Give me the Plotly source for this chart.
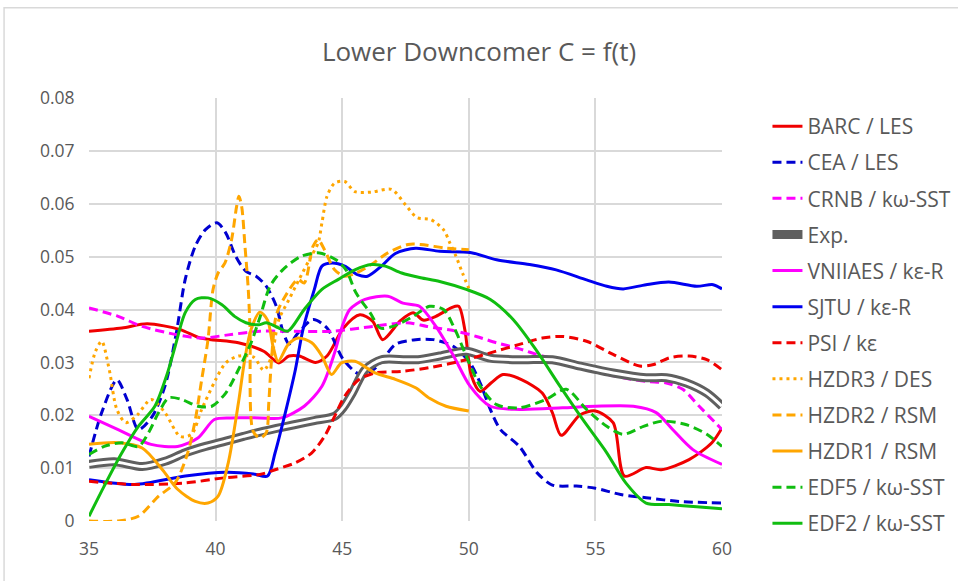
import plotly.graph_objects as go

# Time axis (s) and concentration C for each contribution
BARC_t = [35.0, 36.3, 37.3, 38.6, 39.4, 40.9, 41.9, 42.5, 42.9, 43.3, 43.95, 44.4, 45.05, 45.7, 46.2, 46.6, 47.3, 47.8, 48.2, 48.7, 49.3, 49.6, 49.85, 50.1, 50.45, 50.9, 51.35, 52.1, 52.9, 53.3, 53.65, 54.4, 55.0, 55.7, 56.15, 57.0, 57.6, 58.7, 59.6, 60.0]
BARC_c = [0.0359, 0.0365, 0.0373, 0.0362, 0.0346, 0.0337, 0.0321, 0.0299, 0.0312, 0.0312, 0.0300, 0.0312, 0.0365, 0.0390, 0.0378, 0.0343, 0.0379, 0.0394, 0.0380, 0.0387, 0.0403, 0.0406, 0.0360, 0.0275, 0.0245, 0.0262, 0.0277, 0.0267, 0.0242, 0.0205, 0.0162, 0.0201, 0.0208, 0.0186, 0.0085, 0.0101, 0.0097, 0.0116, 0.0148, 0.0176]

CEA_t = [35.0, 35.5, 36.1, 36.5, 36.95, 37.5, 38.0, 38.45, 38.8, 39.2, 39.6, 40.05, 40.4, 40.8, 41.2, 41.6, 42.0, 42.4, 42.65, 42.9, 43.25, 43.85, 44.4, 45.05, 45.7, 46.2, 46.6, 47.1, 47.9, 48.6, 49.4, 50.05, 50.45, 50.85, 51.25, 52.0, 52.7, 53.3, 54.25, 55.0, 56.0, 57.0, 58.3, 60.0]
CEA_c = [0.0122, 0.0205, 0.0267, 0.0230, 0.0173, 0.0198, 0.0255, 0.0356, 0.0457, 0.0520, 0.0551, 0.0564, 0.0545, 0.0500, 0.0472, 0.0463, 0.0444, 0.0406, 0.0360, 0.0335, 0.0355, 0.0381, 0.0365, 0.0305, 0.0277, 0.0285, 0.0305, 0.0334, 0.0343, 0.0343, 0.0330, 0.0299, 0.0261, 0.0211, 0.0173, 0.0141, 0.0091, 0.0068, 0.0066, 0.0062, 0.0050, 0.0044, 0.0037, 0.0034]

CRNB_t = [35.0, 36.15, 37.1, 38.5, 39.45, 40.5, 41.75, 42.55, 44.6, 46.2, 47.55, 48.35, 49.5, 50.3, 51.1, 51.9, 52.9, 54.0, 55.0, 56.1, 57.0, 57.8, 58.45, 59.1, 60.0]
CRNB_c = [0.0403, 0.0387, 0.0368, 0.0352, 0.0346, 0.0352, 0.0359, 0.0359, 0.0359, 0.0368, 0.0375, 0.0368, 0.0359, 0.0349, 0.0337, 0.0327, 0.0312, 0.0299, 0.0283, 0.0271, 0.0264, 0.0261, 0.0249, 0.0217, 0.0173]

EXP_t = [35.0, 36.0, 37.1, 38.0, 38.8, 39.6, 40.4, 41.1, 41.75, 42.4, 43.1, 43.9, 44.7, 45.05, 45.4, 45.9, 46.55, 47.5, 48.0, 48.85, 49.9, 50.85, 52.1, 53.3, 54.4, 55.7, 57.0, 57.8, 58.6, 59.4, 60.0]
EXP_c = [0.0107, 0.0112, 0.0103, 0.0113, 0.0129, 0.0141, 0.0151, 0.0160, 0.0168, 0.0175, 0.0182, 0.0190, 0.0198, 0.0215, 0.0242, 0.0286, 0.0305, 0.0305, 0.0305, 0.0312, 0.0321, 0.0308, 0.0305, 0.0305, 0.0293, 0.0280, 0.0271, 0.0271, 0.0261, 0.0242, 0.0217]

VNIIAES_t = [35.0, 36.15, 37.45, 38.5, 39.3, 39.95, 40.6, 41.75, 42.6, 43.5, 44.2, 44.7, 45.0, 45.3, 45.9, 46.8, 47.4, 48.05, 48.7, 49.4, 50.05, 50.85, 52.0, 53.7, 55.0, 56.5, 57.4, 58.05, 58.85, 60.0]
VNIIAES_c = [0.0198, 0.0173, 0.0145, 0.0141, 0.0157, 0.0192, 0.0195, 0.0195, 0.0195, 0.0217, 0.0255, 0.0318, 0.0368, 0.0400, 0.0419, 0.0425, 0.0412, 0.0406, 0.0368, 0.0312, 0.0255, 0.0217, 0.0211, 0.0214, 0.0217, 0.0217, 0.0205, 0.0173, 0.0135, 0.0107]

SJTU_t = [35.0, 36.8, 38.8, 40.4, 41.5, 42.05, 42.35, 42.75, 43.15, 43.45, 43.9, 44.2, 44.6, 45.1, 45.6, 46.0, 46.55, 47.1, 47.9, 48.85, 50.05, 51.1, 52.4, 53.45, 54.65, 55.45, 56.1, 57.0, 57.9, 59.0, 59.65, 60.0]
SJTU_c = [0.0078, 0.0069, 0.0085, 0.0092, 0.0089, 0.0085, 0.0129, 0.0204, 0.0286, 0.0362, 0.0438, 0.0482, 0.0488, 0.0482, 0.0466, 0.0463, 0.0482, 0.0506, 0.0516, 0.0510, 0.0508, 0.0494, 0.0485, 0.0475, 0.0456, 0.0444, 0.0439, 0.0447, 0.0452, 0.0444, 0.0447, 0.0439]

PSI_t = [35.0, 36.8, 38.8, 40.4, 41.75, 42.35, 43.15, 43.8, 44.3, 44.7, 45.1, 45.65, 46.3, 47.35, 48.45, 49.9, 50.85, 52.0, 52.9, 53.7, 54.65, 55.7, 56.75, 57.3, 57.95, 58.7, 59.4, 60.0]
PSI_c = [0.0075, 0.0069, 0.0072, 0.0082, 0.0088, 0.0097, 0.0110, 0.0129, 0.0160, 0.0198, 0.0236, 0.0267, 0.0280, 0.0283, 0.0290, 0.0305, 0.0318, 0.0334, 0.0346, 0.0349, 0.0340, 0.0315, 0.0293, 0.0296, 0.0309, 0.0312, 0.0305, 0.0286]

HZDR3_t = [35.0, 35.25, 35.5, 35.8, 36.1, 36.45, 36.9, 37.45, 38.0, 38.6, 39.05, 39.45, 40.0, 40.4, 40.9, 41.5, 41.9, 42.2, 42.5, 42.9, 43.3, 43.7, 44.05, 44.2, 44.4, 44.7, 45.1, 45.5, 46.15, 46.95, 47.5, 47.95, 48.5, 49.0, 49.25, 49.5, 49.75, 50.0]
HZDR3_c = [0.0270, 0.0320, 0.0340, 0.0286, 0.0211, 0.0186, 0.0200, 0.0230, 0.0205, 0.0160, 0.0164, 0.0211, 0.0267, 0.0299, 0.0312, 0.0310, 0.0285, 0.0310, 0.0381, 0.0419, 0.0457, 0.0494, 0.0526, 0.0564, 0.0614, 0.0639, 0.0642, 0.0623, 0.0622, 0.0627, 0.0598, 0.0574, 0.0570, 0.0551, 0.0526, 0.0500, 0.0469, 0.0440]

HZDR2_t = [35.0, 36.15, 36.95, 37.75, 38.4, 38.9, 39.2, 39.45, 39.7, 39.9, 40.1, 40.37, 40.63, 40.83, 40.92, 41.03, 41.16, 41.29, 41.36, 41.48, 41.75, 42.0, 42.1, 42.2, 42.4, 42.75, 43.25, 43.5, 43.85, 44.05, 44.3, 44.7, 45.1, 45.6, 46.15, 46.8, 47.6, 48.1, 49.1, 50.0]
HZDR2_c = [0.0, 0.0, 0.0009, 0.0047, 0.0072, 0.0129, 0.0192, 0.0267, 0.0343, 0.0438, 0.0469, 0.0488, 0.0532, 0.0595, 0.0614, 0.0595, 0.0520, 0.0438, 0.0362, 0.0170, 0.0157, 0.0167, 0.0223, 0.0299, 0.0390, 0.0425, 0.0457, 0.0450, 0.0520, 0.0532, 0.0513, 0.0475, 0.0463, 0.0470, 0.0485, 0.0507, 0.0523, 0.0523, 0.0516, 0.0513]

HZDR1_t = [35.0, 36.15, 37.1, 37.9, 38.5, 39.2, 39.7, 40.1, 40.5, 40.9, 41.15, 41.4, 41.75, 42.05, 42.27, 42.47, 42.87, 43.26, 43.8, 44.2, 44.58, 44.97, 45.5, 46.3, 47.1, 47.9, 48.45, 49.1, 50.0]
HZDR1_c = [0.0145, 0.0148, 0.0138, 0.0097, 0.0060, 0.0037, 0.0034, 0.0047, 0.0110, 0.0223, 0.0305, 0.0362, 0.0395, 0.0380, 0.0330, 0.0302, 0.0334, 0.0346, 0.0337, 0.0312, 0.0277, 0.0299, 0.0302, 0.0280, 0.0268, 0.0252, 0.0232, 0.0217, 0.0208]

EDF5_t = [35.0, 35.6, 36.3, 36.95, 37.35, 37.75, 38.15, 38.65, 39.3, 39.85, 40.4, 40.9, 41.4, 41.75, 42.15, 42.65, 43.35, 44.1, 44.75, 45.15, 45.55, 46.1, 46.5, 47.0, 47.8, 48.45, 49.0, 49.4, 49.9, 50.45, 51.1, 52.0, 53.05, 53.85, 54.65, 55.45, 56.1, 56.9, 57.65, 58.6, 59.4, 60.0]
EDF5_c = [0.0126, 0.0141, 0.0148, 0.0141, 0.0167, 0.0205, 0.0233, 0.0230, 0.0217, 0.0217, 0.0242, 0.0286, 0.0337, 0.0385, 0.0444, 0.0475, 0.0500, 0.0507, 0.0494, 0.0475, 0.0431, 0.0394, 0.0365, 0.0368, 0.0387, 0.0406, 0.0400, 0.0368, 0.0312, 0.0255, 0.0220, 0.0214, 0.0230, 0.0249, 0.0211, 0.0179, 0.0164, 0.0179, 0.0189, 0.0182, 0.0164, 0.0141]

EDF2_t = [35.0, 35.6, 36.3, 36.95, 37.6, 38.1, 38.4, 38.8, 39.2, 39.7, 40.25, 40.75, 41.2, 41.7, 42.0, 42.5, 42.85, 43.5, 44.2, 44.85, 45.5, 46.15, 46.7, 47.35, 48.1, 48.85, 49.9, 50.85, 51.75, 52.65, 53.6, 54.5, 55.45, 56.2, 57.0, 57.9, 59.0, 60.0]
EDF2_c = [0.0009, 0.0066, 0.0129, 0.0179, 0.0217, 0.0280, 0.0330, 0.0394, 0.0419, 0.0422, 0.0409, 0.0387, 0.0375, 0.0371, 0.0375, 0.0365, 0.0359, 0.0400, 0.0438, 0.0457, 0.0475, 0.0485, 0.0482, 0.0469, 0.0460, 0.0453, 0.0438, 0.0419, 0.0381, 0.0324, 0.0255, 0.0192, 0.0129, 0.0072, 0.0034, 0.0031, 0.0027, 0.0023]

X_TICKS = [35, 40, 45, 50, 55, 60]
Y_TICKS = [0, 0.01, 0.02, 0.03, 0.04, 0.05, 0.06, 0.07, 0.08]
TITLE = "Lower Downcomer C = f(t)"

RED = "#F00000"
BLUE_D = "#0000D0"
BLUE = "#0000F0"
MAGENTA = "#FF00FF"
GRAY = "#5F5F5F"
ORANGE = "#FFA600"
GREEN = "#10BD10"
TEXT = "#595959"
GRID = "#D9D9D9"
FONT = "Open Sans"

DASH = "9px,5px"
DOT = "3px,4px"

series = [
    ("BARC / LES", BARC_t, BARC_c, RED, "solid"),
    ("CEA / LES", CEA_t, CEA_c, BLUE_D, DASH),
    ("CRNB / kω-SST", CRNB_t, CRNB_c, MAGENTA, DASH),
    ("Exp.", EXP_t, EXP_c, GRAY, "exp"),
    ("VNIIAES / kε-R", VNIIAES_t, VNIIAES_c, MAGENTA, "solid"),
    ("SJTU / kε-R", SJTU_t, SJTU_c, BLUE, "solid"),
    ("PSI / kε", PSI_t, PSI_c, RED, DASH),
    ("HZDR3 / DES", HZDR3_t, HZDR3_c, ORANGE, DOT),
    ("HZDR2 / RSM", HZDR2_t, HZDR2_c, ORANGE, DASH),
    ("HZDR1 / RSM", HZDR1_t, HZDR1_c, ORANGE, "solid"),
    ("EDF5 / kω-SST", EDF5_t, EDF5_c, GREEN, DASH),
    ("EDF2 / kω-SST", EDF2_t, EDF2_c, GREEN, "solid"),
]

fig = go.Figure()
for i, (name, t, c, color, style) in enumerate(series):
    group = f"g{i:02d}"
    if style == "exp":
        # experimental curve: thick gray stroke with a thin white core
        fig.add_trace(go.Scatter(x=t, y=c, name=name, mode="lines", legendgroup=group,
                                 line=dict(color=color, width=9, shape="spline", smoothing=0.8)))
        fig.add_trace(go.Scatter(x=t, y=c, name=name, mode="lines", legendgroup=group,
                                 showlegend=False, hoverinfo="skip",
                                 line=dict(color="white", width=3, shape="spline", smoothing=0.8)))
    else:
        fig.add_trace(go.Scatter(x=t, y=c, name=name, mode="lines", legendgroup=group,
                                 line=dict(color=color, width=3, dash=style,
                                           shape="spline", smoothing=0.8)))

L, R, T, B = 89, 235.5, 98.3, 59.5
W, H = 958, 581
pw, ph = W - L - R, H - T - B

fig.update_layout(
    width=W, height=H,
    margin=dict(l=L, r=R, t=T, b=B, pad=0, autoexpand=False),
    paper_bgcolor="white", plot_bgcolor="white",
    font=dict(family=FONT, color=TEXT, size=17),
    title=dict(text=TITLE, x=0.5, xref="container", xanchor="center",
               y=1 - 52 / H, yanchor="middle", yref="container",
               font=dict(size=26, color=TEXT, family=FONT)),
    xaxis=dict(range=[35, 60], tickvals=X_TICKS, showgrid=True, gridcolor=GRID, gridwidth=1.5,
               zeroline=False, showline=False, ticks="outside", ticklen=12,
               tickcolor="rgba(0,0,0,0)", tickfont=dict(size=17.5, color=TEXT)),
    yaxis=dict(range=[0, 0.08], tickvals=Y_TICKS, showgrid=True, gridcolor=GRID, gridwidth=1.5,
               zeroline=False, showline=False, ticks="outside", ticklen=10,
               tickcolor="rgba(0,0,0,0)", tickfont=dict(size=17.5, color=TEXT)),
    legend=dict(x=(768 - L) / pw, xanchor="left",
                yref="container", y=1 - 106 / H, yanchor="top", maxheight=1,
                font=dict(size=21, color=TEXT, family=FONT), tracegroupgap=5.8,
                bgcolor="rgba(0,0,0,0)", traceorder="grouped"),
    showlegend=True,
)

# outer chart frame
fig.add_shape(type="rect", xref="paper", yref="paper", layer="below",
              x0=(4 - L) / pw, x1=(W + 20 - L) / pw,
              y0=-(B + 20) / ph, y1=1 + (T - 8) / ph,
              line=dict(color=GRID, width=1.5), fillcolor="rgba(0,0,0,0)")

fig.write_html("out.html")
